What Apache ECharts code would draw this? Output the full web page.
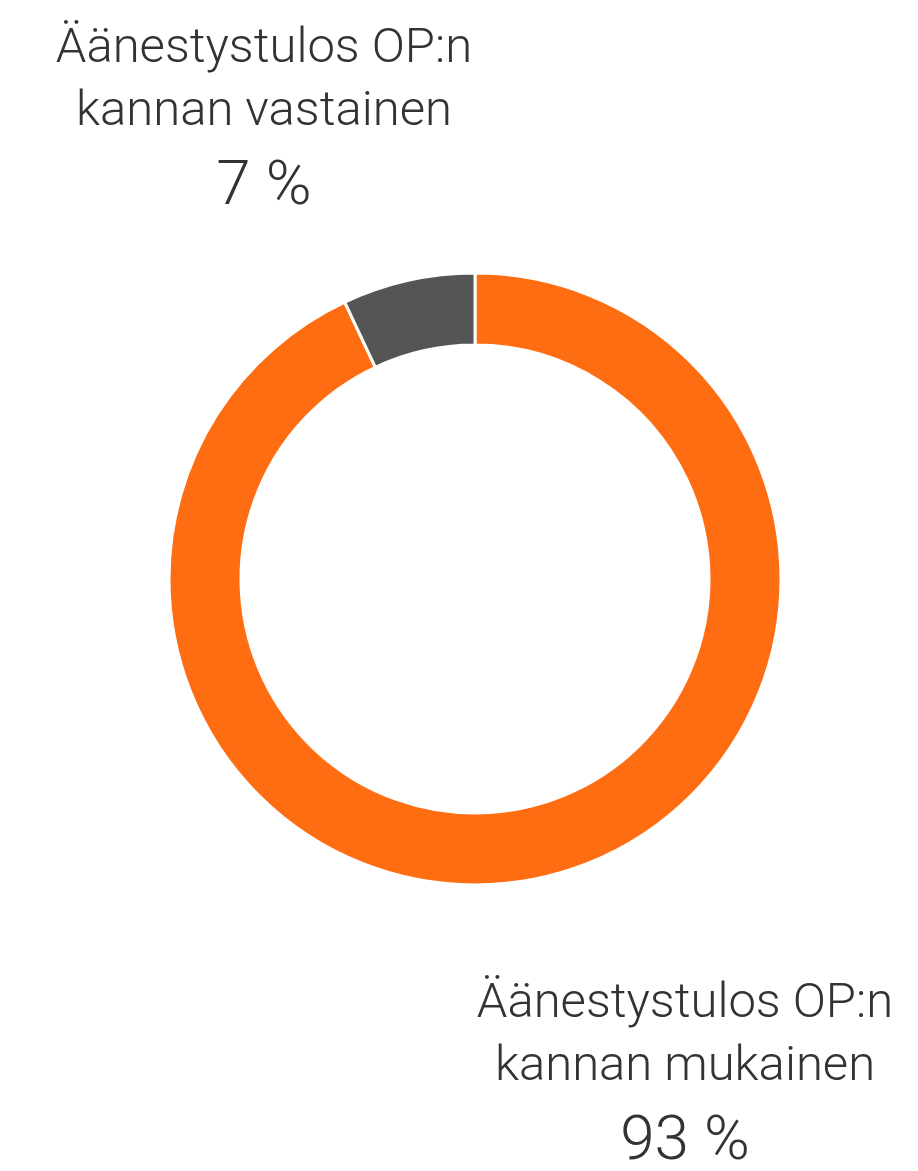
<!DOCTYPE html>
<html>
<head>
<meta charset="utf-8">
<style>
  html, body { margin: 0; padding: 0; background: #fff; }
  #chart { width: 918px; height: 1171px; }
</style>
<script src="https://cdn.jsdelivr.net/npm/echarts@6/dist/echarts.min.js"></script>
</head>
<body>
<div id="chart"></div>
<script>
const names = ['Äänestystulos OP:n kannan mukainen', 'Äänestystulos OP:n kannan vastainen'];
const nameLines = [['Äänestystulos OP:n', 'kannan mukainen'], ['Äänestystulos OP:n', 'kannan vastainen']];
const values = [93, 7];
const colors = ['#ff6d12', '#555555'];

// where each label block sits (center x, top y)
const labelSpots = [[685, 973], [264, 18]];

const chart = echarts.init(document.getElementById('chart'));

chart.setOption({
  animation: false,
  textStyle: { fontFamily: 'Roboto', fontWeight: 300 },
  series: [
    {
      type: 'pie',
      center: [475, 579],
      radius: [234, 306],
      startAngle: 90,
      clockwise: true,
      itemStyle: { borderColor: '#fff', borderWidth: 3 },
      labelLine: { show: false },
      label: {
        show: true,
        position: 'outside',
        overflow: 'none',
        color: '#333',
        formatter: p => {
          const lines = nameLines[p.dataIndex].map(l => '{n|' + l + '}');
          return lines.join('\n') + '\n{p|' + p.value + ' %}';
        },
        rich: {
          n: { fontSize: 49, lineHeight: 63, fontFamily: 'Roboto', fontWeight: 300, color: '#333' },
          p: { fontSize: 62, lineHeight: 88, fontFamily: 'Roboto', fontWeight: 300, color: '#333' }
        }
      },
      labelLayout: params => {
        const s = labelSpots[params.dataIndex];
        return { x: s[0], y: s[1], align: 'center', verticalAlign: 'top' };
      },
      emphasis: { disabled: true },
      data: values.map((v, i) => ({ value: v, name: names[i], itemStyle: { color: colors[i] } }))
    }
  ]
});
</script>
</body>
</html>
